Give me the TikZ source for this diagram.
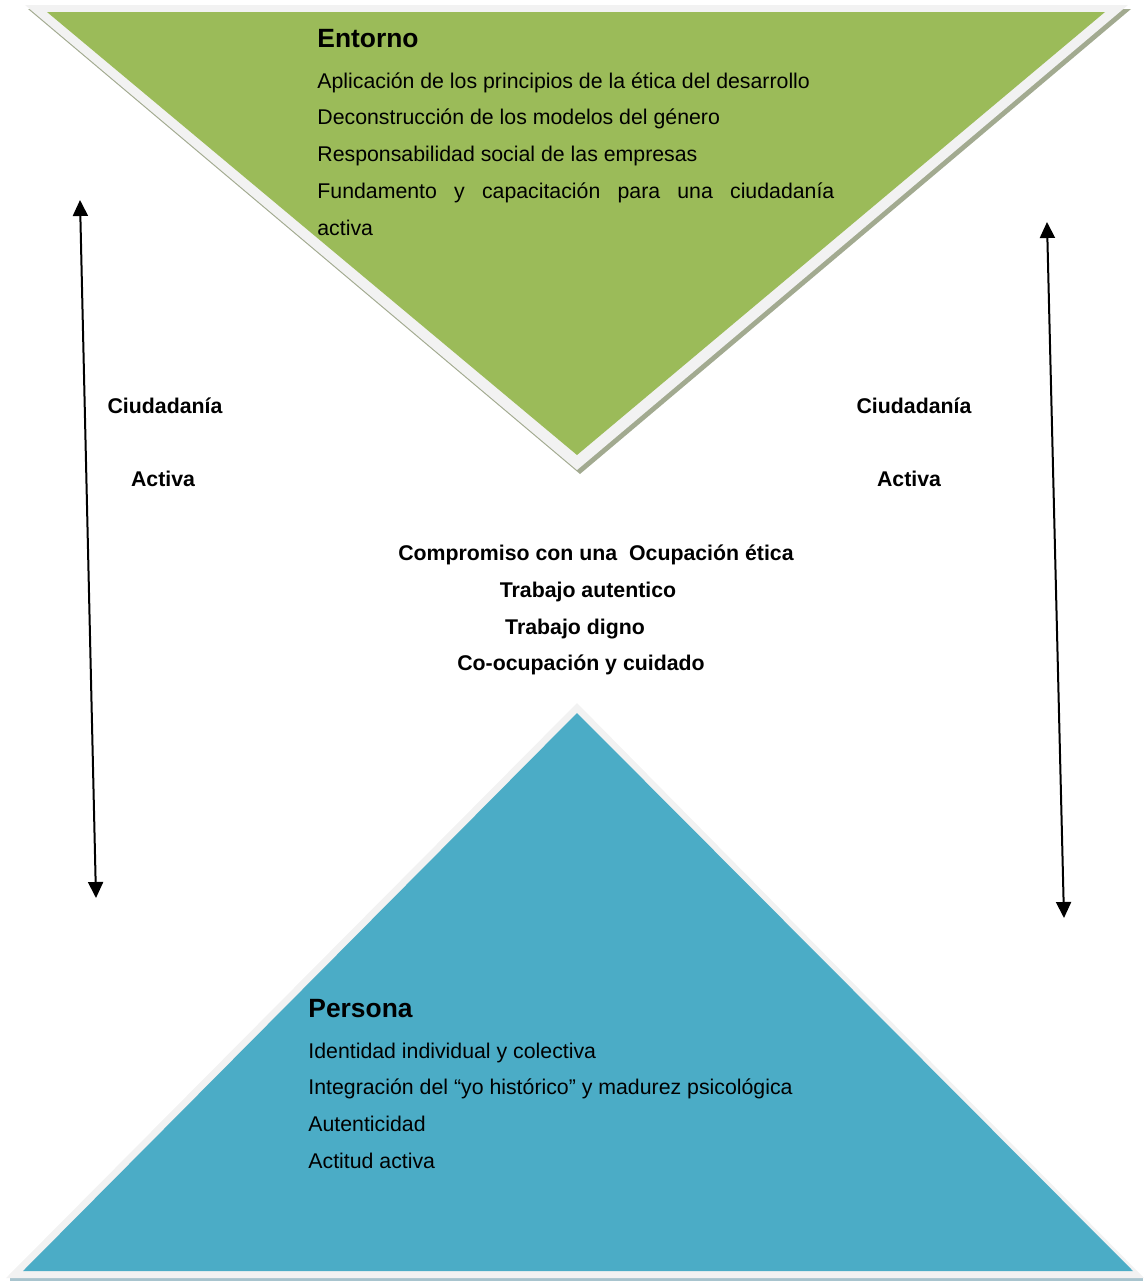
\documentclass[tikz,border=0pt]{standalone}
\usepackage{fontspec}
\setmainfont{Liberation Sans}
\usepackage{xcolor}
\usepackage{tikz}
\usetikzlibrary{arrows.meta, positioning}

\definecolor{verde}{HTML}{9BBB59}
\definecolor{azul}{HTML}{4BACC6}
\definecolor{borde}{HTML}{F2F2F2}
\definecolor{sombraverde}{HTML}{A2AA90}
\definecolor{sombraazul}{HTML}{A8C4CE}

\begin{document}
\begin{tikzpicture}[x=0.5pt, y=-0.5pt,
  titulo/.style={font=\fontsize{13.2}{16}\selectfont\bfseries, anchor=base west, inner sep=0pt},
  linea/.style={font=\fontsize{10.65}{13}\selectfont, anchor=base west, inner sep=0pt},
  negrita/.style={font=\fontsize{10.65}{13}\selectfont\bfseries, anchor=base, inner sep=0pt},
  flecha/.style={{Triangle[length=8pt,width=7.5pt]}-{Triangle[length=8pt,width=7.5pt]}, line width=1pt}]

\useasboundingbox (0,0) rectangle (1146,1281);

% triangulo de arriba
\fill[sombraverde] (28,9) -- (1131,9) -- (580,474) -- cycle;
\fill[borde] (25,5) -- (1128,5) -- (577,470) -- cycle;
\fill[verde] (47,12) -- (1105,12) -- (577,455) -- cycle;

% triangulo de abajo
\fill[sombraazul] (10,1278) rectangle (1143,1281);
\fill[borde] (6,1278) -- (1144,1278) -- (577,703) -- cycle;
\fill[azul] (23,1271) -- (1133,1271) -- (577,713) -- cycle;

\node (entorno)[titulo] at (317,47) {Entorno};
\node (aplicacion)[linea] at (317,88) {Aplicación de los principios de la ética del desarrollo};
\node (deconstruccion)[linea, below=18.4pt of aplicacion.base west, anchor=base west] {Deconstrucción de los modelos del género};
\node (responsabilidad)[linea, below=18.4pt of deconstruccion.base west, anchor=base west] {Responsabilidad social de las empresas};
\node (fundamento)[linea, below=18.4pt of responsabilidad.base west, anchor=base west] {\makebox[258.5pt][s]{Fundamento y capacitación para una ciudadanía}};
\node (activa)[linea, below=18.4pt of fundamento.base west, anchor=base west] {activa};

\node (compromiso)[negrita] at (596,560.5) {Compromiso con una~ Ocupación ética};
\node (autentico)[negrita, below=18.4pt of compromiso.base, anchor=base, xshift=-4pt] {Trabajo autentico};
\node (digno)[negrita, below=18.4pt of autentico.base, anchor=base, xshift=-6.5pt] {Trabajo digno};
\node (coocupacion)[negrita, below=18.4pt of digno.base, anchor=base, xshift=3pt] {Co-ocupación y cuidado};

\node (persona)[titulo] at (308,1017) {Persona};
\node (identidad)[linea] at (308,1058) {Identidad individual y colectiva};
\node (integracion)[linea, below=18.4pt of identidad.base west, anchor=base west] {Integración del “yo histórico” y madurez psicológica};
\node (autenticidad)[linea, below=18.4pt of integracion.base west, anchor=base west] {Autenticidad};
\node (actitud)[linea, below=18.4pt of autenticidad.base west, anchor=base west] {Actitud activa};

\node (ciudadaniaizq)[negrita] at (165,413) {Ciudadanía};
\node (activaizq)[negrita] at (163,486) {Activa};
\node (ciudadaniader)[negrita] at (914,413) {Ciudadanía};
\node (activader)[negrita] at (909,486) {Activa};

\coordinate (izqarriba) at (80,200);
\coordinate (izqabajo) at (96,898);
\coordinate (derarriba) at (1047,222);
\coordinate (derabajo) at (1064,918);

\draw[flecha] (izqarriba) -- (izqabajo);
\draw[flecha] (derarriba) -- (derabajo);

\end{tikzpicture}
\end{document}
